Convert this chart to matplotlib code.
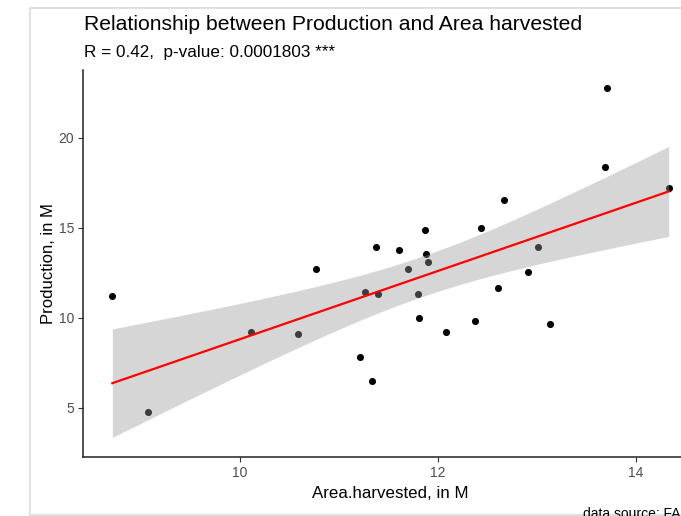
import numpy as np
import matplotlib.pyplot as plt

plt.rcParams['font.family'] = ['Liberation Sans', 'DejaVu Sans']

# values (millions)
area_harvested = [8.71, 9.07, 10.11, 10.59, 10.77, 11.21, 11.26, 11.33, 11.37, 11.39,
                  11.61, 11.70, 11.80, 11.81, 11.87, 11.88, 11.90, 12.08, 12.37, 12.43,
                  12.61, 12.67, 12.91, 13.01, 13.13, 13.69, 13.71, 14.33]
production = [11.22, 4.75, 9.17, 9.06, 12.72, 7.78, 11.44, 6.50, 13.90, 11.33,
              13.75, 12.70, 11.29, 9.97, 14.86, 13.55, 13.07, 9.18, 9.82, 14.99,
              11.62, 16.51, 12.54, 13.93, 9.64, 18.36, 22.73, 17.18]
x_ticks = [10, 12, 14]
y_ticks = [5, 10, 15, 20]

title = 'Relationship between Production and Area harvested'
subtitle = 'R = 0.42,  p-value: 0.0001803 ***'
caption = 'data source: FAO'

x = np.array(area_harvested)
y = np.array(production)

# linear fit + 95% confidence band (like geom_smooth(method = "lm"))
slope, intercept = np.polyfit(x, y, 1)
n = len(x)
resid = y - (slope * x + intercept)
s = np.sqrt(np.sum(resid ** 2) / (n - 2))
sxx = np.sum((x - x.mean()) ** 2)
xs = np.linspace(x.min(), x.max(), 80)
fit = slope * xs + intercept
t_crit = 2.056  # t(0.975, df=26)
se = s * np.sqrt(1 / n + (xs - x.mean()) ** 2 / sxx)

fig = plt.figure(figsize=(6.81, 5.16), dpi=100)
W, H = 681, 516
ax = fig.add_axes([83 / W, (H - 457) / H, (720 - 83) / W, (457 - 70) / H])

ax.scatter(x, y, s=26, color='black', zorder=2, linewidths=0)
ax.fill_between(xs, fit - t_crit * se, fit + t_crit * se, color='#999999', alpha=0.4,
                linewidth=0, zorder=3)
ax.plot(xs, fit, color='red', lw=1.6, zorder=4)

ax.set_xlim(8.414, 8.414 + (720 - 83) / 99)
ax.set_ylim(2.25, 23.75)
ax.set_xticks(x_ticks)
ax.set_yticks(y_ticks)
ax.tick_params(colors='#333333', labelcolor='#4D4D4D', labelsize=10, length=3.5,
               width=0.8, pad=3)
for side in ['top', 'right']:
    ax.spines[side].set_visible(False)
for side in ['left', 'bottom']:
    ax.spines[side].set_linewidth(1.1)
    ax.spines[side].set_color('#222222')

ax.set_xlabel('Area.harvested, in M', fontsize=12.2, x=(390 - 83) / (720 - 83), labelpad=4)
ax.set_ylabel('Production, in M', fontsize=12, labelpad=1.5)

fig.text(84 / W, (H - 24) / H, title, fontsize=15.2, va='center', ha='left')
fig.text(84 / W, (H - 52) / H, subtitle, fontsize=12.3, va='center', ha='left')
fig.text(583 / W, (H - 507) / H, caption, fontsize=10, va='top', ha='left')

# light frame of the screenshot
border = '#DDE3E3'
fig.add_artist(plt.Line2D([30 / W, 30 / W], [0, (H - 8) / H], color=border, lw=1.5))
fig.add_artist(plt.Line2D([30 / W, 1], [(H - 8) / H, (H - 8) / H], color=border, lw=1.5))
fig.add_artist(plt.Line2D([30 / W, 1], [1 / H, 1 / H], color=border, lw=1.5))

fig.savefig('out.png', dpi=100)
